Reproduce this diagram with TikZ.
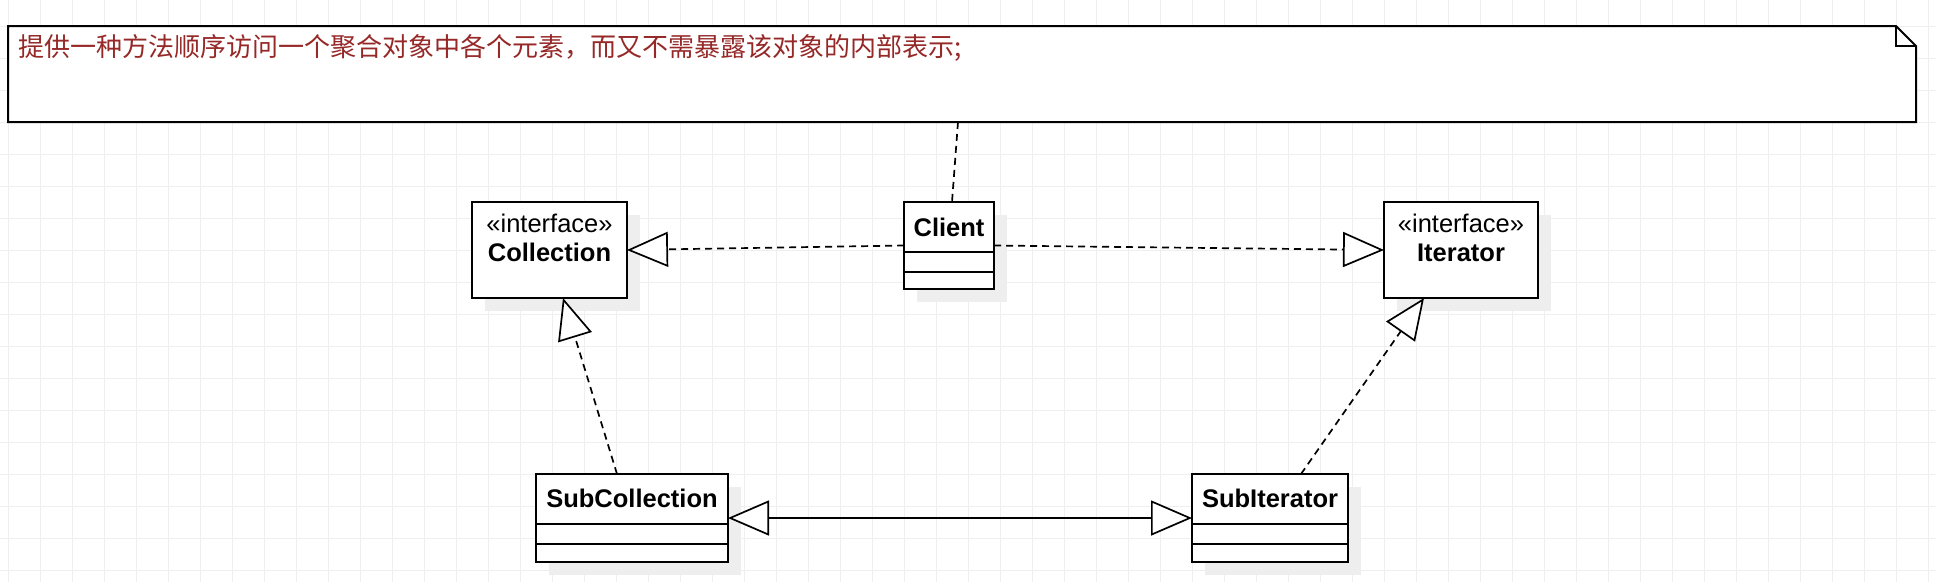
\documentclass[tikz,border=0pt]{standalone}
\usepackage{fontspec}
\setmainfont{Liberation Sans}
\newfontfamily\cjk{Noto Sans CJK SC}
\usetikzlibrary{arrows.meta,calc,shadows}
\definecolor{gridc}{RGB}{239,239,239}
\definecolor{shadc}{RGB}{238,238,238}
\definecolor{notetxt}{RGB}{150,40,40}
\tikzset{
  cls/.style={draw=black, line width=2pt, fill=white, inner sep=0pt, outer sep=0pt,
    drop shadow={shadow xshift=13pt, shadow yshift=-13pt, fill=shadc, opacity=1}},
  txt/.style={inner sep=0pt, anchor=base, font=\fontsize{25.5}{29}\selectfont},
  btxt/.style={txt, font=\fontsize{25.5}{29}\selectfont\bfseries},
  sepline/.style={line width=2pt},
  dep/.style={line width=1.7pt, dash pattern=on 7pt off 5pt},
  hollow/.tip={Triangle[length=41pt,width=35pt,fill=white]},
  realize/.style={dep, -hollow},
  assoc/.style={line width=1.7pt, hollow-hollow},
}
\begin{document}
\begin{tikzpicture}[x=1pt,y=-1pt]
\useasboundingbox (0,0) rectangle (1936,582);
% grid
\foreach \x in {8,40,...,1928} \draw[gridc, line width=1pt] (\x,0) -- (\x,582);
\foreach \y in {26,58,...,570} \draw[gridc, line width=1pt] (0,\y) -- (1936,\y);
% note
\node[inner sep=0pt, outer sep=0pt, minimum width=1908pt, minimum height=96pt] (note) at (962,74) {};
\draw[line width=2pt, fill=white, line join=miter] (note.north west) -- ($(note.north east)+(-20,0)$) -- ($(note.north east)+(0,20)$) -- (note.south east) -- (note.south west) -- cycle;
\draw[line width=2pt] ($(note.north east)+(-20,0)$) -- ($(note.north east)+(-20,20)$) -- ($(note.north east)+(0,20)$);
\node[inner sep=0pt, anchor=base west, text=notetxt, font=\cjk\fontsize{26}{30}\selectfont] (notetext) at (18.5,56.5) {提供一种方法顺序访问一个聚合对象中各个元素，而又不需暴露该对象的内部表示;};
% classes
\node[cls, minimum width=155pt, minimum height=96pt] (coll) at (549.5,250) {};
\node[txt] (colls) at ($(coll.north)+(0,30)$) {«interface»};
\node[btxt] (colln) at ($(coll.north)+(0,59)$) {Collection};

\node[cls, minimum width=154pt, minimum height=96pt] (iter) at (1461,250) {};
\node[txt] (iters) at ($(iter.north)+(0,30)$) {«interface»};
\node[btxt] (itern) at ($(iter.north)+(0,59)$) {Iterator};

\node[cls, minimum width=90pt, minimum height=87pt] (client) at (949,245.5) {};
\node[btxt] (clientn) at ($(client.north)+(0,34)$) {Client};
\draw[sepline] ($(client.north west)+(0,50)$) -- ($(client.north east)+(0,50)$);
\draw[sepline] ($(client.north west)+(0,70)$) -- ($(client.north east)+(0,70)$);

\node[cls, minimum width=192pt, minimum height=88pt] (subcoll) at (632,518) {};
\node[btxt] (subcolln) at ($(subcoll.north)+(0,33.6)$) {SubCollection};
\draw[sepline] ($(subcoll.north west)+(0,50)$) -- ($(subcoll.north east)+(0,50)$);
\draw[sepline] ($(subcoll.north west)+(0,70)$) -- ($(subcoll.north east)+(0,70)$);

\node[cls, minimum width=156pt, minimum height=88pt] (subit) at (1270,518) {};
\node[btxt] (subitn) at ($(subit.north)+(0,33.6)$) {SubIterator};
\draw[sepline] ($(subit.north west)+(0,50)$) -- ($(subit.north east)+(0,50)$);
\draw[sepline] ($(subit.north west)+(0,70)$) -- ($(subit.north east)+(0,70)$);

% connectors
\draw[dep] ($(note.south)+(-4,0)$) -- ($(client.north)+(3,0)$);
\draw[realize] (client.west) -- (coll.east);
\draw[realize] (client.east) -- (iter.west);
\draw[realize] ($(subcoll.north)+(-15,0)$) -- ($(coll.south)+(13.5,0)$);
\draw[realize] ($(subit.north)+(31,0)$) -- ($(iter.south)+(-37,0)$);
\draw[assoc] (subcoll.east) -- (subit.west);
\end{tikzpicture}
\end{document}
